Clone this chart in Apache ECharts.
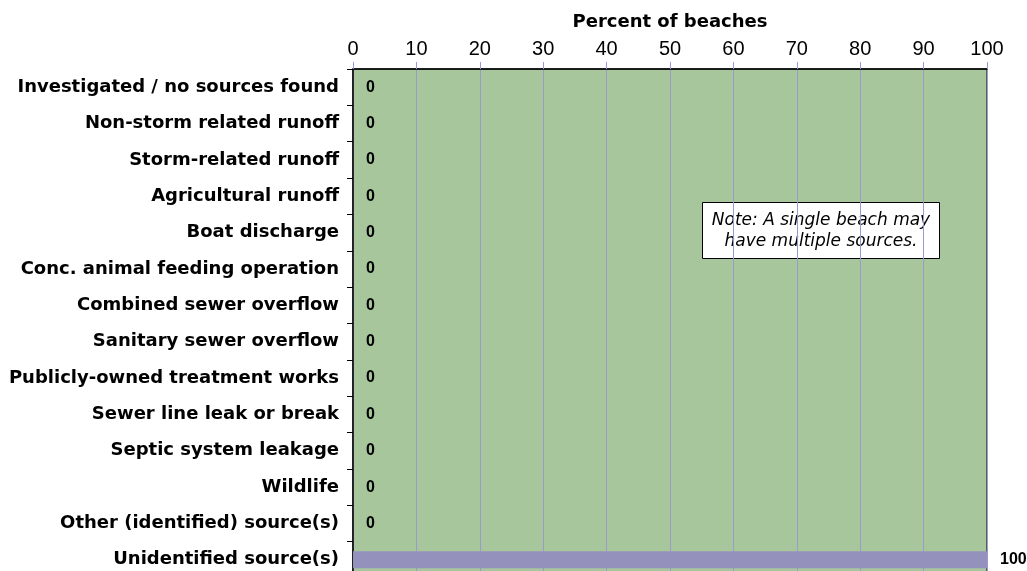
<!DOCTYPE html>
<html>
<head>
<meta charset="utf-8">
<script src="https://cdn.jsdelivr.net/npm/echarts@6/dist/echarts.min.js"></script>
<style>
html,body{margin:0;padding:0;background:#fff;overflow:hidden;}
#chart{width:1027px;height:580px;}
</style>
</head>
<body>
<div id="chart"></div>
<script>
const categories = [
  "Investigated / no sources found",
  "Non-storm related runoff",
  "Storm-related runoff",
  "Agricultural runoff",
  "Boat discharge",
  "Conc. animal feeding operation",
  "Combined sewer overflow",
  "Sanitary sewer overflow",
  "Publicly-owned treatment works",
  "Sewer line leak or break",
  "Septic system leakage",
  "Wildlife",
  "Other (identified) source(s)",
  "Unidentified source(s)"
];
const percentValues = [0,0,0,0,0,0,0,0,0,0,0,0,0,100];
const xTickMin = 0, xTickMax = 100, xTickStep = 10;
const axisTitle = "Percent of beaches";
const noteLines = ["Note: A single beach may", "have multiple sources."];

const chart = echarts.init(document.getElementById('chart'), null, {renderer:'canvas'});
chart.setOption({
  animation:false,
  backgroundColor:'#ffffff',
  grid:{left:353, right:40, top:69, bottom:2, show:true, backgroundColor:'#a7c69c', borderColor:'#000', borderWidth:1},
  xAxis:{
    type:'value', position:'top', min:xTickMin, max:xTickMax, interval:xTickStep,
    name:axisTitle, nameLocation:'middle', nameGap:38,
    nameTextStyle:{fontFamily:'DejaVu Sans', fontWeight:'bold', fontSize:18, color:'#000'},
    axisLine:{show:true, lineStyle:{color:'#000', width:1.5}},
    axisTick:{show:true, length:7, lineStyle:{color:'#9a9ad2'}},
    axisLabel:{fontFamily:'Liberation Sans', fontSize:20, color:'#000', margin:10},
    splitLine:{show:true, lineStyle:{color:'#9a9ad2', width:1}}
  },
  yAxis:{
    type:'category', data:categories, inverse:true,
    axisLine:{show:true, lineStyle:{color:'#000', width:1.5}},
    axisTick:{show:true, length:6, lineStyle:{color:'#000'}},
    axisLabel:{fontFamily:'DejaVu Sans', fontWeight:'bold', fontSize:18, color:'#000', margin:14}
  },
  series:[{
    type:'bar',
    data:percentValues,
    barWidth:17,
    itemStyle:{color:'#9491bd'},
    label:{show:true, position:'right', distance:13, fontFamily:'Liberation Sans', fontWeight:'bold', fontSize:16, color:'#000'}
  }],
  graphic:[{
    type:'group', left:702, top:202,
    children:[
      {type:'rect', shape:{x:0,y:0,width:237,height:56}, style:{fill:'#fff', stroke:'#000', lineWidth:1}},
      {type:'text', style:{x:118.5, y:7.5, text:noteLines.join('\n'), textAlign:'center', fontFamily:'DejaVu Sans', fontStyle:'italic', fontSize:17, lineHeight:21, fill:'#000'}}
    ]
  }]
});
</script>
</body>
</html>
